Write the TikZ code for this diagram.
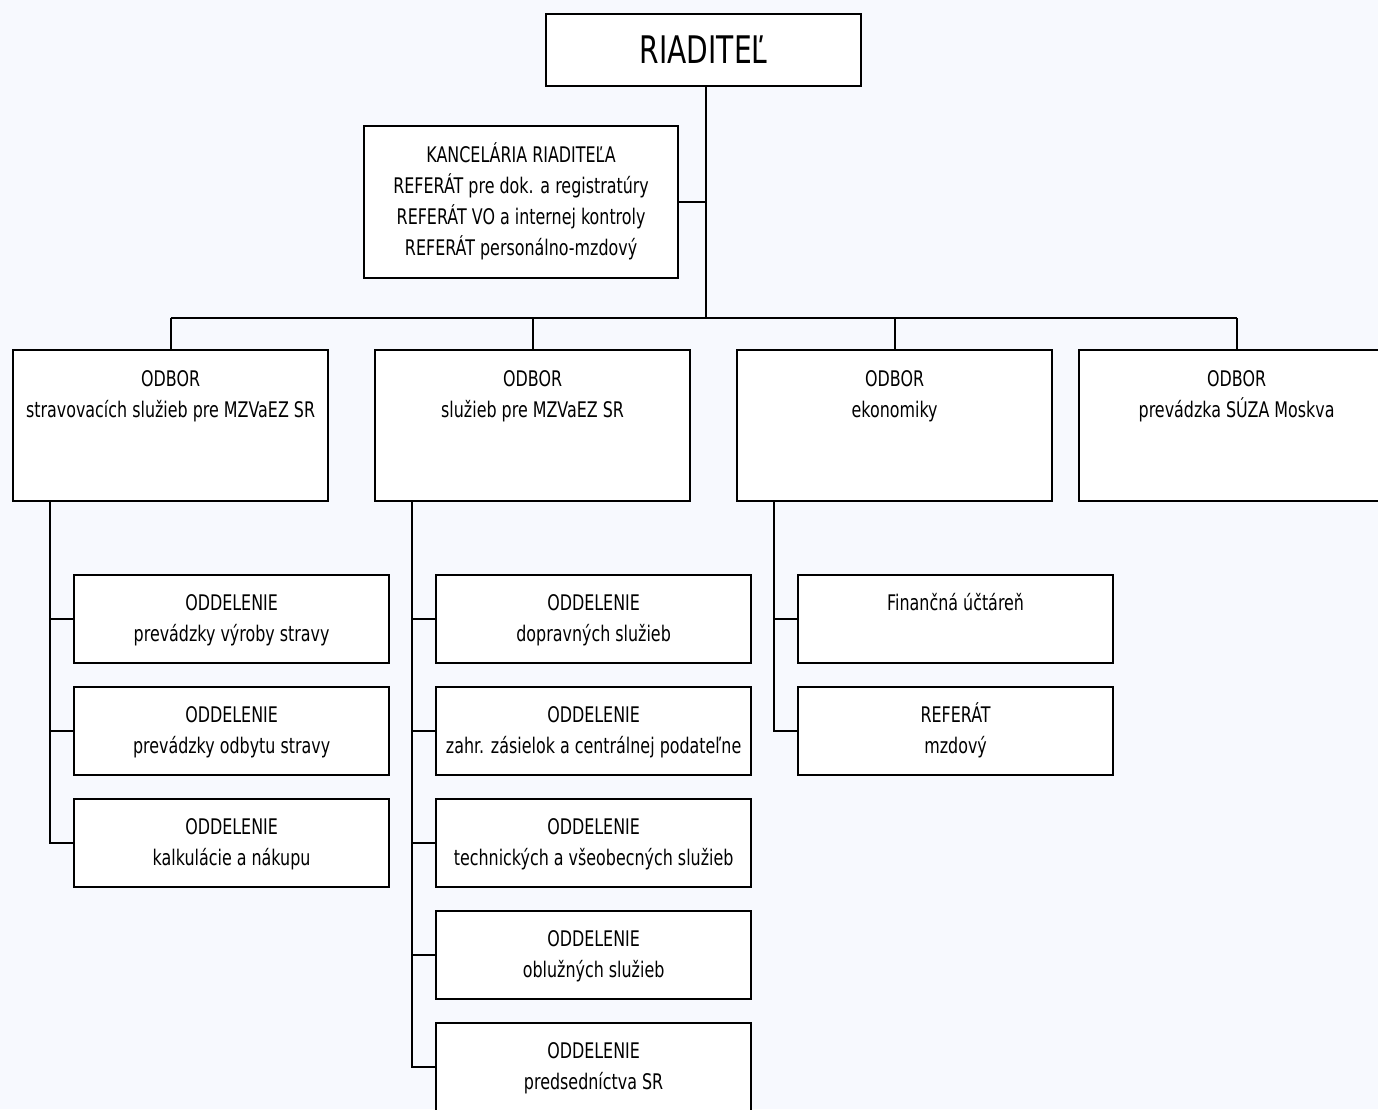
\documentclass[tikz,border=0pt]{standalone}
\usepackage{fontspec}
\setmainfont{DejaVu Sans}[FakeStretch=0.74]
\definecolor{bgc}{HTML}{F7F9FE}
\begin{document}
\begin{tikzpicture}[x=1pt,y=-1pt,
  box/.style={draw=black, line width=2.2pt, fill=white, inner sep=0pt, anchor=north west, minimum width=315pt},
  odbor/.style={box, minimum height=151pt},
  sub/.style={box, minimum height=88pt},
  txt/.style={anchor=base, align=center, inner sep=0pt, font=\fontsize{21.5}{31}\selectfont},
  conn/.style={line width=2pt}]
\fill[bgc] (0,0) rectangle (1378,1109);
\useasboundingbox (0,0) rectangle (1378,1109);

% director
\node[box, minimum height=72pt] (dir) at (545,13) {};
\node[anchor=base, inner sep=0pt, font=\fontsize{38}{40}\selectfont] (dirt) at ([yshift=-50pt]dir.north) {RIADITEĽ};

% office
\node[box, minimum width=314pt, minimum height=152pt] (kan) at (363,125) {};
\node[txt, font=\fontsize{21.5}{30.7}\selectfont] (kant) at ([yshift=-130pt]kan.north) {KANCELÁRIA RIADITEĽA\\REFERÁT pre dok. a registratúry\\REFERÁT VO a internej kontroly\\REFERÁT personálno-mzdový};

% departments
\node[odbor] (o1) at (12,349) {};
\node[odbor] (o2) at (374,349) {};
\node[odbor] (o3) at (736,349) {};
\node[odbor] (o4) at (1078,349) {};
\node[txt] (o1t) at ([yshift=-68pt]o1.north) {ODBOR\\stravovacích služieb pre MZVaEZ SR};
\node[txt] (o2t) at ([yshift=-68pt]o2.north) {ODBOR\\služieb pre MZVaEZ SR};
\node[txt] (o3t) at ([yshift=-68pt]o3.north) {ODBOR\\ekonomiky};
\node[txt] (o4t) at ([yshift=-68pt]o4.north) {ODBOR\\prevádzka SÚZA Moskva};

% column 1
\node[sub] (c11) at (73,574) {};
\node[sub] (c12) at (73,686) {};
\node[sub] (c13) at (73,798) {};
\node[txt] at ([yshift=-67pt]c11.north) {ODDELENIE\\prevádzky výroby stravy};
\node[txt] at ([yshift=-67pt]c12.north) {ODDELENIE\\prevádzky odbytu stravy};
\node[txt] at ([yshift=-67pt]c13.north) {ODDELENIE\\kalkulácie a nákupu};

% column 2
\node[sub] (c21) at (435,574) {};
\node[sub] (c22) at (435,686) {};
\node[sub] (c23) at (435,798) {};
\node[sub] (c24) at (435,910) {};
\node[sub] (c25) at (435,1022) {};
\node[txt] at ([yshift=-67pt]c21.north) {ODDELENIE\\dopravných služieb};
\node[txt] at ([yshift=-67pt]c22.north) {ODDELENIE\\zahr. zásielok a centrálnej podateľne};
\node[txt] at ([yshift=-67pt]c23.north) {ODDELENIE\\technických a všeobecných služieb};
\node[txt] at ([yshift=-67pt]c24.north) {ODDELENIE\\oblužných služieb};
\node[txt] at ([yshift=-67pt]c25.north) {ODDELENIE\\predsedníctva SR};

% column 3
\node[sub] (c31) at (797,574) {};
\node[sub] (c32) at (797,686) {};
\node[txt] at ([yshift=-36pt]c31.north) {Finančná účtáreň};
\node[txt] at ([yshift=-67pt]c32.north) {REFERÁT\\mzdový};

% connectors
\coordinate (bus) at (706,318);
\draw[conn] (dir.south -| bus) -- (bus);
\draw[conn] (kan.east) -- (kan.east -| bus);
\draw[conn] (o1.north |- bus) -- (o4.north |- bus);
\foreach \o in {o1,o2,o3,o4} \draw[conn] (\o.north |- bus) -- (\o.north);

\foreach \c in {c11,c12,c13} \draw[conn] ([xshift=38pt]o1.south west) |- (\c.west);
\foreach \c in {c21,c22,c23,c24,c25} \draw[conn] ([xshift=38pt]o2.south west) |- (\c.west);
\foreach \c in {c31,c32} \draw[conn] ([xshift=38pt]o3.south west) |- (\c.west);
\end{tikzpicture}
\end{document}
